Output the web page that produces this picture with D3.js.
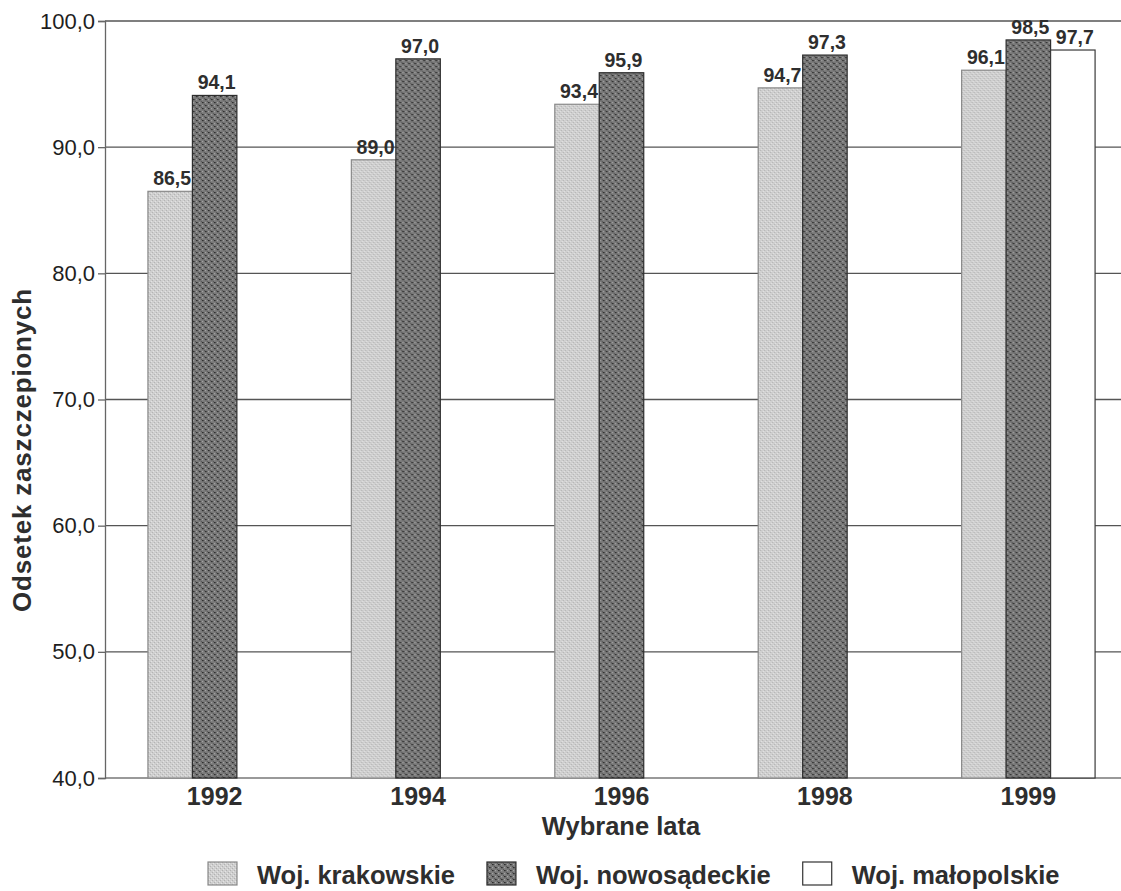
<!DOCTYPE html>
<html lang="pl">
<head>
<meta charset="utf-8">
<script src="https://cdn.jsdelivr.net/npm/d3@7"></script>
<style>
  html, body { margin: 0; padding: 0; background: #fff; }
  svg { display: block; font-family: "Liberation Sans", Arial, Helvetica, sans-serif; }
</style>
</head>
<body>
<svg id="chart" width="1121" height="891"></svg>
<script>
// Years shown on the category axis
const years = ["1992", "1994", "1996", "1998", "1999"];
// Series (voivodeships)
const series = ["Woj. krakowskie", "Woj. nowosądeckie", "Woj. małopolskie"];
// Vaccination coverage in percent, one array per series (null = no data that year)
const krakowskie   = [86.5, 89.0, 93.4, 94.7, 96.1];
const nowosadeckie = [94.1, 97.0, 95.9, 97.3, 98.5];
const malopolskie  = [null, null, null, null, 97.7];
// Value-axis ticks
const yTicks = [40, 50, 60, 70, 80, 90, 100];

const seriesValues = [krakowskie, nowosadeckie, malopolskie];
const fmt = v => d3.format(".1f")(v).replace(".", ",");

const svg = d3.select("#chart");
const W = 1121, H = 891;
const plotLeft = 105, plotRight = 1138, plotTop = 21, plotBottom = 778;

// Fill textures for the bars
const defs = svg.append("defs");
const light = defs.append("pattern").attr("id", "patLight")
  .attr("patternUnits", "userSpaceOnUse").attr("width", 4).attr("height", 4);
light.append("rect").attr("width", 4).attr("height", 4).attr("fill", "#cfcfcf");
[[0,0,"#b2b2b2"],[2,2,"#b2b2b2"],[1,3,"#e4e4e4"],[3,1,"#e4e4e4"]].forEach(([x,y,c]) =>
  light.append("rect").attr("x", x).attr("y", y).attr("width", 1).attr("height", 1).attr("fill", c));

const dark = defs.append("pattern").attr("id", "patDark")
  .attr("patternUnits", "userSpaceOnUse").attr("width", 6).attr("height", 6);
dark.append("rect").attr("width", 6).attr("height", 6).attr("fill", "#7a7a7a");
[[0,0,"#2e2e2e"],[3,3,"#2e2e2e"],[1,0,"#474747"],[4,3,"#474747"],[0,3,"#a4a4a4"],[3,0,"#a4a4a4"],[5,5,"#585858"],[2,2,"#585858"]].forEach(([x,y,c]) =>
  dark.append("rect").attr("x", x).attr("y", y).attr("width", 1.2).attr("height", 1.2).attr("fill", c));

const fills = ["url(#patLight)", "url(#patDark)", "#ffffff"];
const strokes = ["#8a8a8a", "#2e2e2e", "#3a3a3a"];

// Scales
const x0 = d3.scaleBand().domain(years).range([plotLeft, plotRight])
  .paddingInner(0.344).paddingOuter(0.211);
const x1 = d3.scaleBand().domain(d3.range(series.length)).range([0, x0.bandwidth()]);
const y = d3.scaleLinear().domain([40, 100]).range([plotBottom, plotTop]);

// Horizontal gridlines and frame
svg.append("g").selectAll("line").data(yTicks).join("line")
  .attr("x1", plotLeft).attr("x2", W)
  .attr("y1", d => y(d)).attr("y2", d => y(d))
  .attr("stroke", d => d === 40 ? "#777" : "#555")
  .attr("stroke-width", 1.3);

// Left value axis
const yAxis = svg.append("g").attr("transform", `translate(${plotLeft},0)`)
  .call(d3.axisLeft(y).tickValues(yTicks).tickFormat(fmt).tickSize(7).tickPadding(3));
yAxis.select(".domain").attr("stroke", "#666").attr("stroke-width", 1.3);
yAxis.selectAll(".tick line").attr("stroke", "#666").attr("stroke-width", 1.3);
yAxis.selectAll(".tick text").attr("font-size", 22).attr("fill", "#1e1e1e")
  .attr("font-family", "Liberation Sans, Arial, sans-serif");

// Bars
const groups = svg.append("g").selectAll("g").data(years).join("g")
  .attr("transform", d => `translate(${x0(d)},0)`);

const cells = groups.selectAll("g.cell")
  .data((d, i) => seriesValues.map((arr, s) => ({ s, v: arr[i] })).filter(c => c.v !== null))
  .join("g").attr("class", "cell");

cells.append("rect")
  .attr("x", d => x1(d.s)).attr("width", x1.bandwidth())
  .attr("y", d => y(d.v)).attr("height", d => y(40) - y(d.v))
  .attr("fill", d => fills[d.s]).attr("stroke", d => strokes[d.s]).attr("stroke-width", 1.2);

cells.append("text")
  .attr("x", d => x1(d.s) + x1.bandwidth() / 2 + 2)
  .attr("y", d => y(d.v) - 6)
  .attr("text-anchor", "middle")
  .attr("font-size", 19.5).attr("font-weight", "bold").attr("fill", "#2e2e2e")
  .text(d => fmt(d.v));

// Category labels
svg.append("g").selectAll("text").data(years).join("text")
  .attr("x", d => x0(d) + x0.bandwidth() / 2)
  .attr("y", 805)
  .attr("text-anchor", "middle")
  .attr("font-size", 25).attr("font-weight", "bold").attr("fill", "#2e2e2e")
  .text(d => d);

// Axis titles
svg.append("text")
  .attr("x", 621).attr("y", 835).attr("text-anchor", "middle")
  .attr("font-size", 25.5).attr("font-weight", "bold").attr("fill", "#2e2e2e")
  .text("Wybrane lata");

svg.append("text")
  .attr("transform", "translate(31,450) rotate(-90)")
  .attr("text-anchor", "middle")
  .attr("font-size", 26).attr("font-weight", "bold").attr("fill", "#2e2e2e")
  .attr("letter-spacing", 0.8)
  .text("Odsetek zaszczepionych");

// Legend
const legend = svg.append("g");
let lx = 208;
series.forEach((name, s) => {
  legend.append("rect")
    .attr("x", lx).attr("y", 862).attr("width", 29).attr("height", 23)
    .attr("fill", fills[s]).attr("stroke", s === 2 ? "#333" : strokes[s]).attr("stroke-width", 1.2);
  const t = legend.append("text")
    .attr("x", lx + 49).attr("y", 884)
    .attr("font-size", 25.5).attr("font-weight", "bold").attr("fill", "#2e2e2e")
    .text(name);
  lx += 49 + t.node().getComputedTextLength() + 32;
});
</script>
</body>
</html>
